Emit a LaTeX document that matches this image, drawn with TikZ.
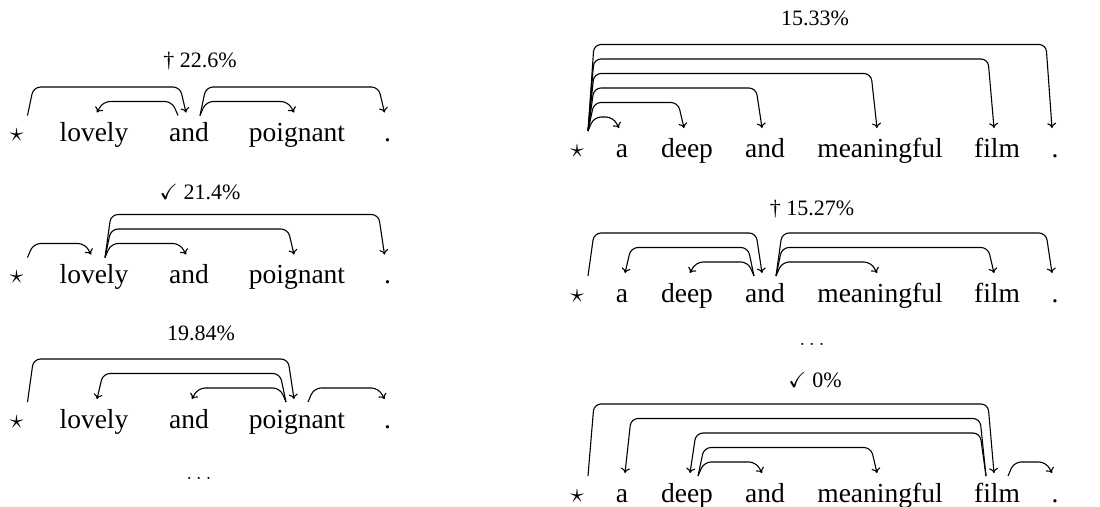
\RequirePackage{fix-cm}
\documentclass[tikz,border=0pt]{standalone}
\usepackage{amssymb}
\usepackage{fontspec}
\setmainfont{Liberation Serif}
\usetikzlibrary{arrows.meta,calc}
\tikzset{
  word/.style={anchor=base, inner sep=0pt, font=\fontsize{27.5}{30}\selectfont},
  lbl/.style={anchor=base, inner sep=0pt, font=\fontsize{22}{26}\selectfont},
  dep/.style={line width=1.1pt, rounded corners=7pt, -{To[length=5pt,width=9pt]}},
}
% #1 source, #2 target, #3 distance (level), #4 direction (1 or -1)
\newcommand{\depedge}[4]{%
  \draw[dep] ($(#1.base)+({11*(#4)},-26)$)
    -- ($(#1.base)+({17*(#4)},{-25.5-14.5*(#3)})$)
    -- ($(#2.base)+({-9*(#4)},{-25.5-14.5*(#3)})$)
    -- ($(#2.base)+({-3*(#4)},-29)$);
}
\begin{document}
\begin{tikzpicture}[x=1pt,y=-1pt]
\useasboundingbox (0,0) rectangle (1100,506);

% ---------- left panel 1 ----------
\node[lbl] (la) at (200,67.5) {\textdagger{} 22.6\%};
\node[word] (a0) at (16.5,141.5) {$\star$};
\node[word] (a1) at (94,141.5) {lovely};
\node[word] (a2) at (189,141.5) {and};
\node[word] (a3) at (297,141.5) {poignant};
\node[word] (a4) at (387.5,141.5) {.};
\depedge{a0}{a2}{2}{1}
\depedge{a2}{a1}{1}{-1}
\depedge{a2}{a3}{1}{1}
\depedge{a2}{a4}{2}{1}

% ---------- left panel 2 ----------
\node[lbl] (lb) at (200,199.5) {$\checkmark$ 21.4\%};
\node[word] (b0) at (16.5,283.5) {$\star$};
\node[word] (b1) at (94,283.5) {lovely};
\node[word] (b2) at (189,283.5) {and};
\node[word] (b3) at (297,283.5) {poignant};
\node[word] (b4) at (387.5,283.5) {.};
\depedge{b0}{b1}{1}{1}
\depedge{b1}{b2}{1}{1}
\depedge{b1}{b3}{2}{1}
\depedge{b1}{b4}{3}{1}

% ---------- left panel 3 ----------
\node[lbl] (lc) at (201,340.5) {19.84\%};
\node[word] (c0) at (16.5,428) {$\star$};
\node[word] (c1) at (94,428) {lovely};
\node[word] (c2) at (189,428) {and};
\node[word] (c3) at (297,428) {poignant};
\node[word] (c4) at (387.5,428) {.};
\depedge{c0}{c3}{3}{1}
\depedge{c3}{c1}{2}{-1}
\depedge{c3}{c2}{1}{-1}
\depedge{c3}{c4}{1}{1}
\node[lbl] (ldots) at (199,479) {$\ldots$};

% ---------- right panel 1 ----------
\node[lbl] (ra) at (815,25.5) {15.33\%};
\node[word] (d0) at (577,157) {$\star$};
\node[word] (d1) at (622,157) {a};
\node[word] (d2) at (687,157) {deep};
\node[word] (d3) at (765,157) {and};
\node[word] (d4) at (880,157) {meaningful};
\node[word] (d5) at (997,157) {film};
\node[word] (d6) at (1055,157) {.};
\depedge{d0}{d1}{1}{1}
\depedge{d0}{d2}{2}{1}
\depedge{d0}{d3}{3}{1}
\depedge{d0}{d4}{4}{1}
\depedge{d0}{d5}{5}{1}
\depedge{d0}{d6}{6}{1}

% ---------- right panel 2 ----------
\node[lbl] (rb) at (812,215.5) {\textdagger{} 15.27\%};
\node[word] (e0) at (577,302) {$\star$};
\node[word] (e1) at (622,302) {a};
\node[word] (e2) at (687,302) {deep};
\node[word] (e3) at (765,302) {and};
\node[word] (e4) at (880,302) {meaningful};
\node[word] (e5) at (997,302) {film};
\node[word] (e6) at (1055,302) {.};
\depedge{e0}{e3}{3}{1}
\depedge{e3}{e1}{2}{-1}
\depedge{e3}{e2}{1}{-1}
\depedge{e3}{e4}{1}{1}
\depedge{e3}{e5}{2}{1}
\depedge{e3}{e6}{3}{1}

\node[lbl] (rdots) at (812,345) {$\ldots$};

% ---------- right panel 3 ----------
\node[lbl] (rc) at (815,387.5) {$\checkmark$ 0\%};
\node[word] (f0) at (577,502) {$\star$};
\node[word] (f1) at (622,502) {a};
\node[word] (f2) at (687,502) {deep};
\node[word] (f3) at (765,502) {and};
\node[word] (f4) at (880,502) {meaningful};
\node[word] (f5) at (997,502) {film};
\node[word] (f6) at (1055,502) {.};
\depedge{f0}{f5}{5}{1}
\depedge{f5}{f1}{4}{-1}
\depedge{f5}{f2}{3}{-1}
\depedge{f2}{f4}{2}{1}
\depedge{f2}{f3}{1}{1}
\depedge{f5}{f6}{1}{1}
\end{tikzpicture}
\end{document}
